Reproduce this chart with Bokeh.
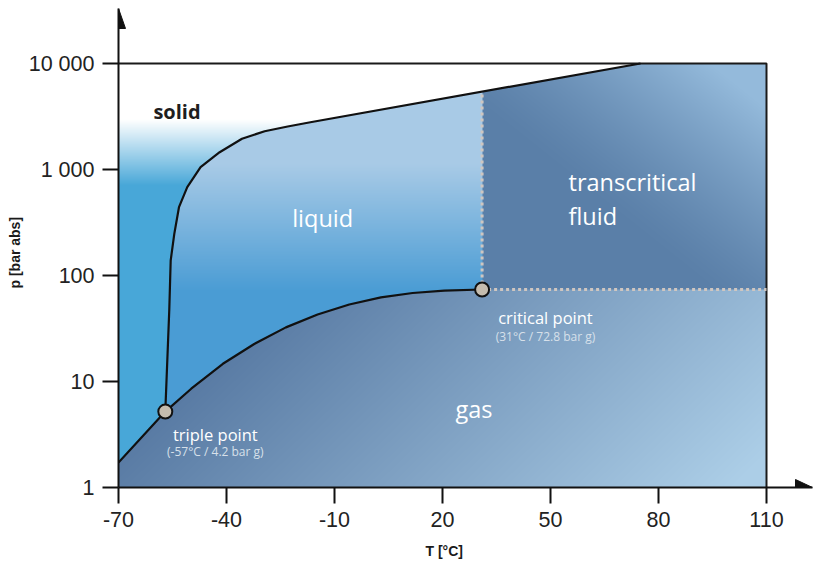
import numpy as np
from bokeh.plotting import figure
from bokeh.models import Range1d, FixedTicker, Label, Title
from bokeh.embed import file_html
from bokeh.resources import INLINE

# ---- CO2 phase diagram data (temperature in °C, pressure in bar abs) ----
ATM = 1.0                      # gauge -> absolute offset
triple_T = -57.0
triple_p_g = 4.2
critical_T = 31.0
critical_p_g = 72.8
triple_p = triple_p_g + ATM
critical_p = critical_p_g + ATM

# solid / liquid boundary (melting curve), starting at the triple point
melt_T = [-57.0, -55.9, -55.5, -54.5, -53.2, -50.9, -47.2, -41.9, -35.7, -29.4, -23.0, -16.7, 75.0]
melt_p = [5.2, 47, 139, 247, 441, 681, 1052, 1455, 1950, 2296, 2547, 2793, 10000]

# sublimation + vapour pressure curve, ending at the critical point
vap_T = [-70.0, -57.0, -49.8, -41.0, -32.3, -23.5, -14.7, -5.9, 2.9, 11.7, 20.5, 31.0]
vap_p = [1.72, 5.2, 8.55, 14.7, 22.6, 32.4, 42.8, 53.3, 62.1, 68.4, 72.1, 73.8]

x_ticks = [-70, -40, -10, 20, 50, 80, 110]
x_tick_labels = ["-70", "-40", "-10", "20", "50", "80", "110"]
y_ticks = [1, 10, 100, 1000, 10000]
y_tick_labels = ["1", "10", "100", "1 000", "10 000"]

T_MIN, T_MAX = -70.0, 110.0
P_MIN, P_MAX = 1.0, 10000.0

# ---- layout: the frame reaches out to the arrow tips of both axes ----
W_FIG, H_FIG = 813, 573
LEFT, RIGHT, TOP, BOTTOM = 118, 1, 8, 86
FRAME_W = W_FIG - LEFT - RIGHT
FRAME_H = H_FIG - TOP - BOTTOM
PLOT_W, PLOT_H = 648, 424          # pixel size of the -70..110 / 1..10000 box
X_END = T_MIN + (T_MAX - T_MIN) * FRAME_W / PLOT_W
Y_END = 10 ** (np.log10(P_MAX / P_MIN) * FRAME_H / PLOT_H)
PX_PER_C = PLOT_W / (T_MAX - T_MIN)
PX_PER_DEC = PLOT_H / np.log10(P_MAX / P_MIN)

p = figure(width=W_FIG, height=H_FIG, output_backend="svg", toolbar_location=None,
           x_range=Range1d(T_MIN, X_END), y_range=Range1d(P_MIN, Y_END),
           y_axis_type="log", min_border_left=LEFT, min_border_right=RIGHT,
           min_border_top=TOP, min_border_bottom=BOTTOM)
p.outline_line_color = None
p.grid.visible = False
p.background_fill_color = "white"
p.border_fill_color = "white"

# ---- shaded phase regions as an RGBA raster (rows uniform in log p) ----
W, H = PLOT_W, PLOT_H
tc = T_MIN + (np.arange(W) + 0.5) * (T_MAX - T_MIN) / W
lc = np.log10(P_MIN) + (np.arange(H) + 0.5) * np.log10(P_MAX / P_MIN) / H
TT, LP = np.meshgrid(tc, lc)

lmelt = np.log10(melt_p)
lvap = np.log10(vap_p)
lcrit = np.log10(critical_p)
T_melt = np.interp(LP, lmelt, melt_T)
lp_boundary = np.where(TT <= critical_T, np.interp(TT, vap_T, lvap), lcrit)

gas = LP < lp_boundary
solid = ~gas & (TT < T_melt)
fluid = ~gas & ~solid & (TT >= critical_T)
liquid = ~gas & ~solid & ~fluid


def mix(c0, c1, t):
    t = np.clip(t, 0.0, 1.0)[..., None]
    return np.array(c0, float) * (1 - t) + np.array(c1, float) * t


rgb = np.zeros((H, W, 3))
c_solid = mix((72, 167, 216), (255, 255, 255), (LP - 2.85) / 0.62)
c_liquid = mix((168, 202, 230), (74, 156, 212), (3.05 - LP) / 1.2)
u = (TT - critical_T) / (T_MAX - critical_T)
v = (LP - lcrit) / (np.log10(P_MAX) - lcrit)
c_fluid = mix((90, 127, 168), (148, 186, 219), np.clip(u + v - 0.8, 0, 1) ** 1.3)
ug = (TT - T_MIN) / (T_MAX - T_MIN)
wg = (lcrit - LP) / lcrit
c_gas = mix((84, 118, 160), (172, 206, 231), 0.95 * ug + 0.3 * wg - 0.2)
rgb[solid] = c_solid[solid]
rgb[liquid] = c_liquid[liquid]
rgb[fluid] = c_fluid[fluid]
rgb[gas] = c_gas[gas]

img = np.empty((H, W), dtype=np.uint32)
view = img.view(dtype=np.uint8).reshape((H, W, 4))
view[..., :3] = np.round(rgb).astype(np.uint8)
view[..., 3] = 255
p.image_rgba(image=[img], x=T_MIN, y=P_MIN, dw=T_MAX - T_MIN, dh=P_MAX - P_MIN)

# ---- frame edges (top and right) ----
p.line([T_MIN, T_MAX, T_MAX], [P_MAX, P_MAX, P_MIN], line_color="#1a1a1a", line_width=2)

# ---- phase boundary curves ----
p.line(melt_T, melt_p, line_color="#111111", line_width=2.2)
p.line(vap_T, vap_p, line_color="#111111", line_width=2.2)

# ---- supercritical limits (dotted) ----
melt_at_crit = 10 ** np.interp(critical_T, melt_T, lmelt)
dot_style = dict(line_color="#cfc6c0", line_width=3, line_dash="3 3")
p.line([critical_T, critical_T], [critical_p, melt_at_crit], **dot_style)
p.line([critical_T, T_MAX], [critical_p, critical_p], **dot_style)

# ---- triple and critical points ----
p.scatter([triple_T, critical_T], [triple_p, critical_p], size=14,
          fill_color="#c5bcae", line_color="#111111", line_width=2)

# ---- axis arrow heads ----
head_len_x, head_half_x = 17 / PX_PER_C, 8 / PX_PER_DEC
head_len_y, head_half_y = 20 / PX_PER_DEC, 7 / PX_PER_C
p.patch([X_END, X_END - head_len_x, X_END - head_len_x],
        [P_MIN, P_MIN * 10 ** head_half_x, P_MIN * 10 ** -head_half_x],
        fill_color="#111111", line_color="#111111")
p.patch([T_MIN, T_MIN - head_half_y, T_MIN + head_half_y],
        [Y_END, Y_END / 10 ** head_len_y, Y_END / 10 ** head_len_y],
        fill_color="#111111", line_color="#111111")

# ---- axes ----
for ax in (p.xaxis[0], p.yaxis[0]):
    ax.axis_line_width = 2
    ax.axis_line_color = "#111111"
    ax.major_tick_line_width = 2
    ax.major_tick_line_color = "#111111"
    ax.major_tick_out = 16
    ax.major_tick_in = 0
    ax.minor_tick_line_color = None
    ax.major_label_text_font = "Liberation Sans"
    ax.major_label_text_font_size = "21.5px"
    ax.major_label_text_color = "#222222"
    ax.major_label_standoff = 8

p.xaxis.ticker = FixedTicker(ticks=x_ticks)
p.xaxis.major_label_overrides = {t: s for t, s in zip(x_ticks, x_tick_labels)}
p.yaxis.ticker = FixedTicker(ticks=y_ticks)
p.yaxis.major_label_overrides = {t: s for t, s in zip(y_ticks, y_tick_labels)}

# axis titles (left-aligned so the offset places them along the frame edge)
title_style = dict(text_font="Liberation Sans", text_font_size="14px",
                   text_font_style="bold", text_color="#1a1a1a", align="left")
p.add_layout(Title(text="T [°C]", offset=307, standoff=22, **title_style), "below")
p.add_layout(Title(text="p [bar abs]", offset=199, standoff=6, **title_style), "left")


def label(x, y, text, size, color="white", font="Open Sans", style="normal",
          align="left", baseline="alphabetic"):
    p.add_layout(Label(x=x, y=y, text=text, text_font=font, text_font_size=size,
                       text_color=color, text_font_style=style, text_align=align,
                       text_baseline=baseline))


# region names
label(-60.3, 3525, "solid", "20px", color="#1e1e1e", style="bold")
label(-13.3, 352, "liquid", "23.5px", align="center")
label(55.0, 754, "transcritical", "23.5px")
label(55.0, 368, "fluid", "23.5px")
label(28.75, 5.56, "gas", "23.5px", align="center")

# point annotations
label(-43.1, 3.16, "triple point", "16.5px", align="center")
label(-43.1, 2.19, f"({triple_T:.0f}°C / {triple_p_g} bar g)", "12px",
      color="#d7e0ea", align="center")
label(48.6, 40.2, "critical point", "16.5px", align="center")
label(48.6, 26.6, f"({critical_T:.0f}°C / {critical_p_g} bar g)", "12px",
      color="#d7e0ea", align="center")

open("out.html", "w").write(file_html(p, INLINE))
